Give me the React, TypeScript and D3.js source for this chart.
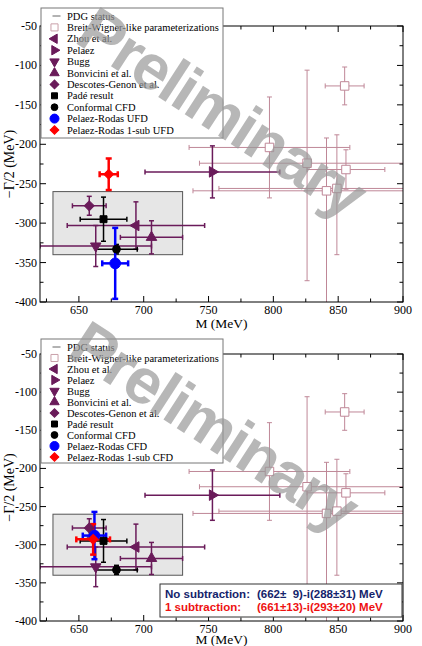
import React, { useEffect, useRef } from 'react';
import * as d3 from 'd3';

const W = 422;
const H = 646;

// Axes
const xTicks = [650, 700, 750, 800, 850, 900];
const yTicks = [-400, -350, -300, -250, -200, -150, -100, -50];

// PDG band (mass range, -Gamma/2 range)
const pdgMass = [630, 730];
const pdgHalfWidth = [-340, -260];

// Breit-Wigner-like parameterizations (asymmetric width errors)
const bwMass = [855, 797, 826, 856, 849, 841];
const bwMassErr = [15, 62, 83, 30, 91, 103];
const bwHalfWidth = [-126, -204, -224, -232, -256, -259];
const bwHalfWidthErrUp = [24, 64, 118, 25, 68, 67];
const bwHalfWidthErrDown = [24, 64, 149, 25, 84, 160];

// Other determinations
const refNames = ['Zhou et al.', 'Pelaez', 'Bugg', 'Bonvicini et al.', 'Descotes-Genon et al.'];
const refSymbols = ['triangleLeft', 'triangleRight', 'triangleDown', 'triangleUp', 'diamond'];
const refMass = [694, 753, 663, 706, 658];
const refMassErr = [53, 52, 43, 24, 13];
const refHalfWidth = [-303, -235, -329, -318, -278];
const refHalfWidthErr = [30, 33, 26, 21, 12];

// Pade and conformal results
const blackNames = ['Padé result', 'Conformal CFD'];
const blackSymbols = ['square', 'circle'];
const blackMass = [669, 679];
const blackMassErr = [18, 16];
const blackHalfWidth = [-295, -333];
const blackHalfWidthErr = [28, 6];

// Pelaez-Rodas dispersive results: [no subtraction, 1 subtraction]
const ufdMass = [678, 673];
const ufdMassErr = [10, 7];
const ufdHalfWidth = [-351, -238];
const ufdHalfWidthErr = [45, 20];

const cfdMass = [662, 661];
const cfdMassErr = [9, 13];
const cfdHalfWidth = [-288, -293];
const cfdHalfWidthErr = [31, 20];

const PURPLE = '#6a1b5a';
const ROSE = '#bf8797';
const SERIF = 'Liberation Serif, Times New Roman, DejaVu Serif, serif';
const SANS = 'Liberation Sans, Arial, sans-serif';

type Sel = d3.Selection<SVGGElement, unknown, null, undefined>;

const symbolPath = (type: string, size: number): [string, number] => {
  const table: Record<string, [d3.SymbolType, number]> = {
    triangleUp: [d3.symbolTriangle, 0],
    triangleDown: [d3.symbolTriangle, 180],
    triangleLeft: [d3.symbolTriangle, -90],
    triangleRight: [d3.symbolTriangle, 90],
    diamond: [d3.symbolSquare, 45],
    square: [d3.symbolSquare, 0],
    circle: [d3.symbolCircle, 0],
  };
  const [t, rot] = table[type];
  return [d3.symbol(t, size)() as string, rot];
};

const marker = (g: Sel, type: string, size: number, x: number, y: number, fill: string, stroke: string) => {
  const [d, rot] = symbolPath(type, size);
  g.append('path')
    .attr('d', d)
    .attr('transform', `translate(${x},${y}) rotate(${rot})`)
    .attr('fill', fill)
    .attr('stroke', stroke)
    .attr('stroke-width', 1);
};

const App: React.FC = () => {
  const svgRef = useRef<SVGSVGElement>(null);

  useEffect(() => {
    if (!svgRef.current) return;
    const svg = d3.select(svgRef.current);
    svg.selectAll('*').remove();

    const left = 40;
    const right = 403;

    const panels = [
      {
        top: 26, bottom: 302, legendTop: 8, legendH: 130, rowStep: 11.4,
        mass: ufdMass, massErr: ufdMassErr, hw: ufdHalfWidth, hwErr: ufdHalfWidthErr,
        names: ['Pelaez-Rodas UFD', 'Pelaez-Rodas 1-sub UFD'],
        wm: [222, 112], results: false, titleDy: 26,
      },
      {
        top: 354, bottom: 621, legendTop: 339, legendH: 124, rowStep: 11,
        mass: cfdMass, massErr: cfdMassErr, hw: cfdHalfWidth, hwErr: cfdHalfWidthErr,
        names: ['Pelaez-Rodas CFD', 'Pelaez-Rodas 1-sub CFD'],
        wm: [214, 426], results: true, titleDy: 23,
      },
    ];

    panels.forEach((p, pi) => {
      const x = d3.scaleLinear().domain([620, 900]).range([left, right]);
      const y = d3.scaleLinear().domain([-400, -50]).range([p.bottom, p.top]);
      const root = svg.append('g');

      const clipId = `plot-clip-${pi}`;
      root.append('clipPath').attr('id', clipId)
        .append('rect')
        .attr('x', left).attr('y', p.top)
        .attr('width', right - left).attr('height', p.bottom - p.top);

      const plot = root.append('g').attr('clip-path', `url(#${clipId})`);

      // PDG band
      plot.append('rect')
        .attr('x', x(pdgMass[0]))
        .attr('y', y(pdgHalfWidth[1]))
        .attr('width', x(pdgMass[1]) - x(pdgMass[0]))
        .attr('height', y(pdgHalfWidth[0]) - y(pdgHalfWidth[1]))
        .attr('fill', '#e6e6e6')
        .attr('stroke', '#555')
        .attr('stroke-width', 1);

      const errorBar = (cx: number, cy: number, exL: number, exR: number, eyU: number, eyD: number,
        color: string, width: number, cap: number) => {
        const px = x(cx), py = y(cy);
        const x0 = x(cx - exL), x1 = x(cx + exR);
        const y0 = y(cy + eyU), y1 = y(cy - eyD);
        const lines: [number, number, number, number][] = [
          [x0, py, x1, py],
          [px, y0, px, y1],
          [x0, py - cap, x0, py + cap],
          [x1, py - cap, x1, py + cap],
          [px - cap, y0, px + cap, y0],
          [px - cap, y1, px + cap, y1],
        ];
        lines.forEach(([a, b, c, d]) => {
          plot.append('line')
            .attr('x1', a).attr('y1', b).attr('x2', c).attr('y2', d)
            .attr('stroke', color).attr('stroke-width', width);
        });
      };

      bwMass.forEach((m, i) => {
        errorBar(m, bwHalfWidth[i], bwMassErr[i], bwMassErr[i], bwHalfWidthErrUp[i], bwHalfWidthErrDown[i], ROSE, 1, 2.5);
      });
      refMass.forEach((m, i) => {
        errorBar(m, refHalfWidth[i], refMassErr[i], refMassErr[i], refHalfWidthErr[i], refHalfWidthErr[i], PURPLE, 1.5, 2.5);
      });
      blackMass.forEach((m, i) => {
        errorBar(m, blackHalfWidth[i], blackMassErr[i], blackMassErr[i], blackHalfWidthErr[i], blackHalfWidthErr[i], '#000', 1.5, 2.5);
      });
      const dispColors = ['#0000ff', '#ff0000'];
      p.mass.forEach((m, i) => {
        errorBar(m, p.hw[i], p.massErr[i], p.massErr[i], p.hwErr[i], p.hwErr[i], dispColors[i], 2.5, 3);
      });

      // markers
      bwMass.forEach((m, i) => marker(plot, 'square', 72, x(m), y(bwHalfWidth[i]), '#fff', ROSE));
      refMass.forEach((m, i) => marker(plot, refSymbols[i], 48, x(m), y(refHalfWidth[i]), PURPLE, PURPLE));
      blackMass.forEach((m, i) => marker(plot, blackSymbols[i], 48, x(m), y(blackHalfWidth[i]), '#000', '#000'));
      const dispSymbols = ['circle', 'diamond'];
      const dispSizes = [90, 48];
      p.mass.forEach((m, i) => marker(plot, dispSymbols[i], dispSizes[i], x(m), y(p.hw[i]), dispColors[i], dispColors[i]));

      // frame and ticks
      root.append('rect')
        .attr('x', left).attr('y', p.top)
        .attr('width', right - left).attr('height', p.bottom - p.top)
        .attr('fill', 'none').attr('stroke', '#000').attr('stroke-width', 1);

      const ticks = root.append('g').attr('stroke', '#000').attr('stroke-width', 1);
      d3.range(625, 901, 25).forEach((v) => {
        const len = v % 50 === 0 ? 6 : 3.5;
        ticks.append('line').attr('x1', x(v)).attr('x2', x(v)).attr('y1', p.bottom).attr('y2', p.bottom - len);
        ticks.append('line').attr('x1', x(v)).attr('x2', x(v)).attr('y1', p.top).attr('y2', p.top + len);
      });
      d3.range(-400, -49, 25).forEach((v) => {
        const len = v % 50 === 0 ? 6 : 3.5;
        ticks.append('line').attr('y1', y(v)).attr('y2', y(v)).attr('x1', left).attr('x2', left + len);
        ticks.append('line').attr('y1', y(v)).attr('y2', y(v)).attr('x1', right).attr('x2', right - len);
      });

      const labels = root.append('g').attr('fill', '#000');
      xTicks.forEach((v) => {
        labels.append('text')
          .attr('x', x(v)).attr('y', p.bottom + 12)
          .attr('text-anchor', 'middle')
          .style('font-family', SERIF).style('font-size', '12px')
          .text(String(v));
      });
      yTicks.forEach((v) => {
        labels.append('text')
          .attr('x', left - 3).attr('y', y(v) + 4)
          .attr('text-anchor', 'end')
          .style('font-family', SERIF).style('font-size', '12px')
          .text(String(v));
      });
      labels.append('text')
        .attr('x', (left + right) / 2).attr('y', p.bottom + p.titleDy)
        .attr('text-anchor', 'middle')
        .style('font-family', SERIF).style('font-size', '13.5px')
        .text('M (MeV)');
      labels.append('text')
        .attr('transform', `translate(14,${(p.top + p.bottom) / 2}) rotate(-90)`)
        .attr('text-anchor', 'middle')
        .style('font-family', SERIF).style('font-size', '14px')
        .text('\u2212\u0393/2 (MeV)');

      // legend
      const lg = root.append('g');
      lg.append('rect')
        .attr('x', 41).attr('y', p.legendTop)
        .attr('width', 182).attr('height', p.legendH)
        .attr('fill', '#fff').attr('stroke', '#777').attr('stroke-width', 1);

      const entries: { name: string; draw: (cx: number, cy: number) => void }[] = [
        { name: 'PDG status', draw: (cx, cy) => { lg.append('line').attr('x1', cx - 2).attr('x2', cx + 6).attr('y1', cy).attr('y2', cy).attr('stroke', '#666').attr('stroke-width', 1); } },
        { name: 'Breit-Wigner-like parameterizations', draw: (cx, cy) => marker(lg, 'square', 50, cx, cy, '#fff', '#c9a0aa') },
        ...refNames.map((n, i) => ({ name: n, draw: (cx: number, cy: number) => marker(lg, refSymbols[i], 38, cx, cy, PURPLE, PURPLE) })),
        ...blackNames.map((n, i) => ({ name: n, draw: (cx: number, cy: number) => marker(lg, blackSymbols[i], 36, cx, cy, '#000', '#000') })),
        ...p.names.map((n, i) => ({ name: n, draw: (cx: number, cy: number) => marker(lg, dispSymbols[i], i === 0 ? 64 : 38, cx, cy, dispColors[i], dispColors[i]) })),
      ];
      entries.forEach((e, i) => {
        const cy = p.legendTop + 8 + i * p.rowStep;
        e.draw(54.5, cy);
        lg.append('text')
          .attr('x', 67).attr('y', cy + 3.5)
          .style('font-family', SERIF).style('font-size', '10.5px')
          .attr('fill', '#000')
          .text(e.name);
      });

      // summary box of the dispersive results
      if (p.results) {
        const box = root.append('g');
        box.append('rect')
          .attr('x', 160).attr('y', 584).attr('width', 242).attr('height', 33)
          .attr('fill', '#fff').attr('stroke', '#333').attr('stroke-width', 1);
        const rows = [
          { label: 'No subtraction:', value: `(${p.mass[0]}\u00b1  ${p.massErr[0]})-i(${-p.hw[0]}\u00b1${p.hwErr[0]}) MeV`, color: '#14236b', y: 598 },
          { label: '1 subtraction:', value: `(${p.mass[1]}\u00b1${p.massErr[1]})-i(${-p.hw[1]}\u00b1${p.hwErr[1]}) MeV`, color: '#ee1111', y: 611 },
        ];
        rows.forEach((r) => {
          const t = box.append('text')
            .attr('y', r.y)
            .style('font-family', SANS)
            .style('font-weight', 'bold')
            .style('font-size', '11.5px')
            .style('white-space', 'pre')
            .attr('fill', r.color);
          t.append('tspan').attr('x', 165).text(r.label);
          t.append('tspan').attr('x', 257).text(r.value);
        });
      }

      // watermark
      root.append('text')
        .attr('transform', `translate(${p.wm[0]},${p.wm[1]}) rotate(33)`)
        .attr('text-anchor', 'middle')
        .attr('dominant-baseline', 'central')
        .style('font-family', SANS)
        .style('font-weight', 'bold')
        .style('font-size', '64px')
        .style('letter-spacing', '-2px')
        .attr('fill', '#999')
        .attr('fill-opacity', 0.7)
        .text('Preliminary');
    });
  }, []);

  return (
    <svg
      ref={svgRef}
      width={W}
      height={H}
      style={{ position: 'absolute', left: 0, top: 0, background: '#fff' }}
    />
  );
};

export default App;
